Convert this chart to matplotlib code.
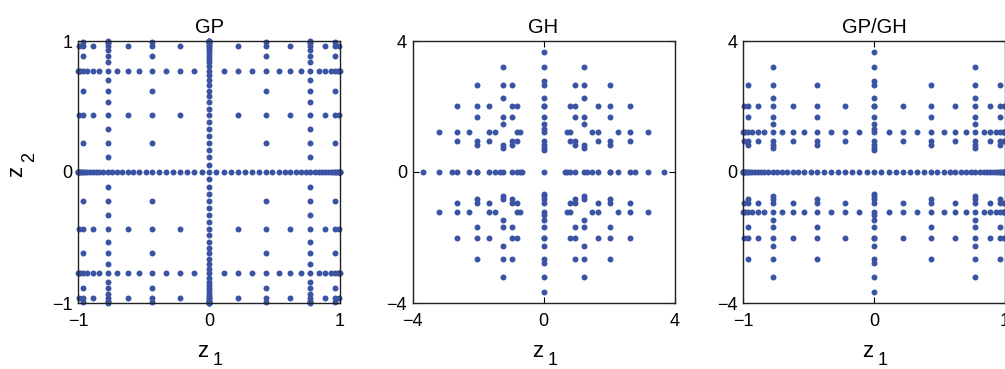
import numpy as np
import matplotlib.pyplot as plt

plt.rcParams['font.family'] = ['Liberation Sans', 'DejaVu Sans']

# Gauss-Patterson nodes (nested): new positive nodes added at each level
gp_new = [
    [],
    [0.7746],
    [0.4342, 0.9605],
    [0.2234, 0.6211, 0.8885, 0.9938],
    [0.1125, 0.3311, 0.5313, 0.7025, 0.8367, 0.9297, 0.9815, 0.9991],
    [0.0563, 0.1682, 0.2777, 0.3834, 0.4836, 0.5772, 0.6629, 0.7398,
     0.8069, 0.8639, 0.9104, 0.9463, 0.9722, 0.9887, 0.9972, 0.9999],
]

# Gauss-Hermite nodes (not nested): positive nodes of the 1, 3, 5, 7, 9, 11 point rules
gh_pos = [
    [],
    [1.2247],
    [0.9586, 2.0202],
    [0.8163, 1.6736, 2.6520],
    [0.7236, 1.4686, 2.2666, 3.1910],
    [0.6568, 1.3268, 2.0259, 2.7833, 3.6685],
]

levels = [(i, j) for i in range(1, 7) for j in range(1, 7) if i + j in (6, 7)]

titles = ['GP', 'GH', 'GP/GH']
xlims = [(-1, 1), (-4, 4), (-1, 1)]
ylims = [(-1, 1), (-4, 4), (-4, 4)]


def sym(v):
    v = np.array(v)
    return np.concatenate([-v, [0.0], v])


def gp_level(l):
    return sym([p for k in range(l) for p in gp_new[k]])


def gh_level(l):
    return sym(gh_pos[l - 1])


rules = {'GP': (gp_level, gp_level), 'GH': (gh_level, gh_level),
         'GP/GH': (gp_level, gh_level)}

W, H = 1005, 369
color = '#3b53a3'
fig = plt.figure(figsize=(W / 100, H / 100), dpi=100)
lefts = [78, 412.5, 743]
width = 262
for k, name in enumerate(titles):
    ax = fig.add_axes([lefts[k] / W, 66 / H, width / W, 262 / H])
    fx, fy = rules[name]
    pts = set()
    for i, j in levels:
        for x in fx(i):
            for y in fy(j):
                pts.add((round(x, 4), round(y, 4)))
    pts = np.array(sorted(pts))
    ax.plot(pts[:, 0], pts[:, 1], 'o', ms=4.3, mew=0, color=color, clip_on=False)
    ax.set_xlim(xlims[k])
    ax.set_ylim(ylims[k])
    ax.set_xticks([xlims[k][0], 0, xlims[k][1]])
    ax.set_yticks([ylims[k][0], 0, ylims[k][1]])
    ax.tick_params(direction='in', top=True, right=True, length=4, width=0.8,
                   labelsize=13, pad=4)
    ax.tick_params(axis='x', pad=7)
    for s in ax.spines.values():
        s.set_linewidth(1.0)
        s.set_color('#222222')
    ax.set_title(name, fontsize=14.5, pad=6)

    # axis label z with lowered subscript 1, drawn as two texts
    cx = lefts[k] + width / 2
    fig.text((cx - 6) / W, 1 - 357 / H, 'z', fontsize=16, ha='center', va='baseline')
    fig.text((cx + 9) / W, 1 - 365 / H, '1', fontsize=13, ha='center', va='baseline')

fig.text(17 / W, 1 - 171 / H, 'z', fontsize=16, rotation=90, ha='center', va='center')
fig.text(30 / W, 1 - 157 / H, '2', fontsize=13, rotation=90, ha='center', va='center')

fig.savefig('out.png', dpi=100)
